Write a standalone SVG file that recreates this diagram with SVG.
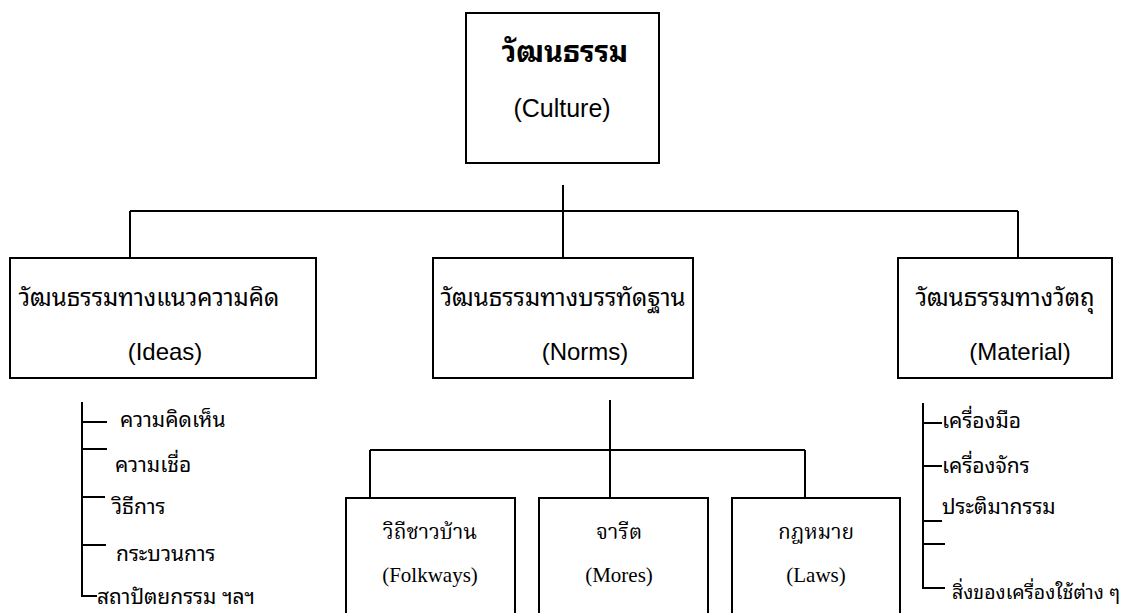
<svg xmlns="http://www.w3.org/2000/svg" width="1127" height="613" viewBox="0 0 1127 613">
<style>
.box{fill:#fff;stroke:#000;stroke-width:2}
.ln{stroke:#000;stroke-width:2;fill:none}
.sa{font-family:"Liberation Sans","Noto Sans Thai Looped","Noto Sans Thai",sans-serif;fill:#000}
.se{font-family:"Liberation Serif","Noto Serif Thai",serif;fill:#000}
.c{text-anchor:middle}
</style>
<rect x="0" y="0" width="1127" height="613" fill="#fff"/>
<g id="connectors" class="ln">
<path d="M563 185V258M130 211H1018M130 211V258M1018 211V258"/>
<path d="M610 400V498M370 450H805M370 450V498M805 450V498"/>
<path d="M82 402V596H97M82 422H107M82 449H107M82 497H105M82 545H106"/>
<path d="M923 403V588H945M923 423H942M923 466H942M923 521H942M923 544H945"/>
</g>
<g id="culture">
<rect class="box" x="466" y="13" width="193" height="150"/>
<text class="sa c" x="565" y="62" font-size="29" font-weight="bold">วัฒนธรรม</text>
<text class="sa c" x="562" y="117" font-size="25">(Culture)</text>
</g>
<g id="ideas">
<rect class="box" x="10" y="258" width="306" height="120"/>
<text class="sa c" x="149" y="306" font-size="24">วัฒนธรรมทางแนวความคิด</text>
<text class="sa c" x="165" y="360" font-size="24">(Ideas)</text>
</g>
<g id="norms">
<rect class="box" x="433" y="258" width="260" height="120"/>
<text class="sa c" x="563" y="306" font-size="24">วัฒนธรรมทางบรรทัดฐาน</text>
<text class="sa c" x="585" y="360" font-size="24">(Norms)</text>
</g>
<g id="material">
<rect class="box" x="898" y="258" width="214" height="120"/>
<text class="sa c" x="1005" y="306" font-size="24">วัฒนธรรมทางวัตถุ</text>
<text class="sa c" x="1020" y="360" font-size="24">(Material)</text>
</g>
<g id="folkways">
<rect class="box" x="346" y="498" width="169" height="130"/>
<text class="se c" x="430" y="539" font-size="21">วิถีชาวบ้าน</text>
<text class="se c" x="430" y="582" font-size="21">(Folkways)</text>
</g>
<g id="mores">
<rect class="box" x="539" y="498" width="169" height="130"/>
<text class="se c" x="619" y="539" font-size="21">จารีต</text>
<text class="se c" x="619" y="582" font-size="21">(Mores)</text>
</g>
<g id="laws">
<rect class="box" x="732" y="498" width="168" height="130"/>
<text class="se c" x="816" y="539" font-size="21">กฎหมาย</text>
<text class="se c" x="816" y="582" font-size="21">(Laws)</text>
</g>
<g id="ideas-list" class="sa" font-size="21">
<text x="120" y="427">ความคิดเห็น</text>
<text x="115" y="472">ความเชื่อ</text>
<text x="112" y="514">วิธีการ</text>
<text x="116" y="561">กระบวนการ</text>
<text x="97" y="604">สถาปัตยกรรม  ฯลฯ</text>
</g>
<g id="material-list" class="sa" font-size="21">
<text x="942" y="428">เครื่องมือ</text>
<text x="942" y="473">เครื่องจักร</text>
<text x="942" y="514">ประติมากรรม</text>
<text x="952" y="599" font-size="19.5">สิ่งของเครื่องใช้ต่าง ๆ</text>
</g>
</svg>
